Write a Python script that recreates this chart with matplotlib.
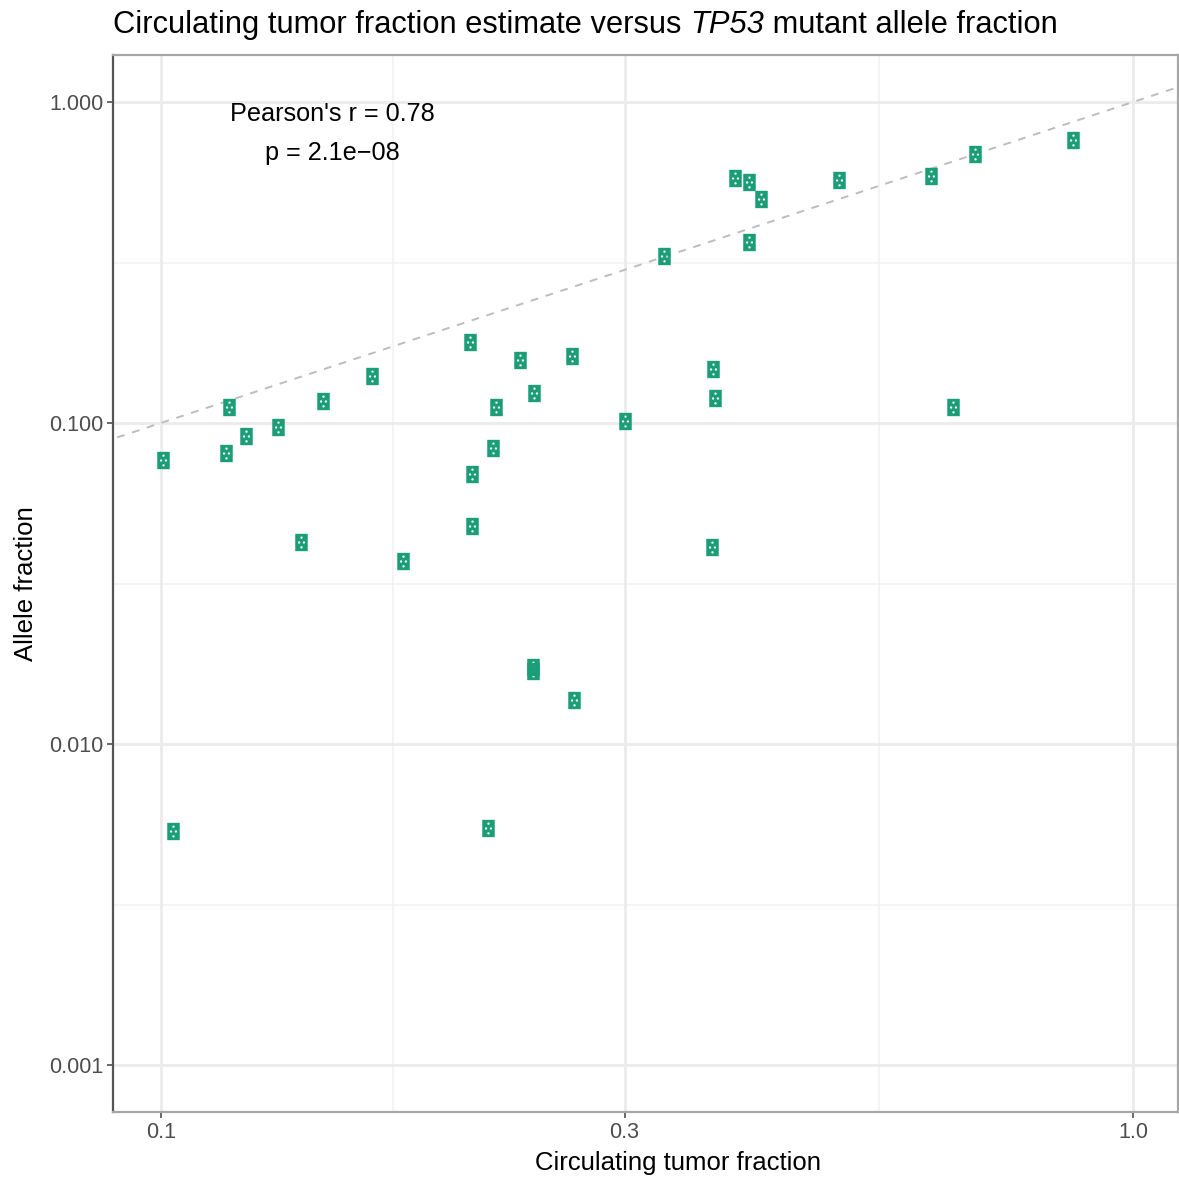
import numpy as np
import matplotlib
matplotlib.use("Agg")
import matplotlib.pyplot as plt
from matplotlib.path import Path

plt.rcParams['font.family'] = ['Liberation Sans', 'DejaVu Sans']

# values
tumor_fraction = [0.1005, 0.1029, 0.1175, 0.1166, 0.1223, 0.1319, 0.1393, 0.1468,
                  0.1649, 0.1774, 0.2079, 0.2089, 0.2089, 0.2170, 0.2196, 0.2212,
                  0.2340, 0.2418, 0.2413, 0.2413, 0.2647, 0.2660, 0.3000, 0.3293,
                  0.3688, 0.3698, 0.3715, 0.3895, 0.4026, 0.4026, 0.4142, 0.4983,
                  0.6196, 0.6529, 0.6877, 0.8675]
allele_fraction = [0.0767, 0.00536, 0.1122, 0.0806, 0.0911, 0.0972, 0.0426, 0.1171,
                   0.1401, 0.0372, 0.1788, 0.0694, 0.0478, 0.00548, 0.0836, 0.1122,
                   0.1572, 0.1241, 0.01738, 0.01688, 0.1617, 0.01371, 0.1014, 0.3313,
                   0.0411, 0.1473, 0.1196, 0.5798, 0.5633, 0.3664, 0.4986, 0.5715,
                   0.5882, 0.1122, 0.6887, 0.7615]

x_ticks = [0.1, 0.3, 1.0]
x_tick_labels = ['0.1', '0.3', '1.0']
y_ticks = [0.001, 0.01, 0.1, 1.0]
y_tick_labels = ['0.001', '0.010', '0.100', '1.000']
x_minor = [np.sqrt(0.1 * 0.3), np.sqrt(0.3 * 1.0)]
y_minor = [10 ** -2.5, 10 ** -1.5, 10 ** -0.5]

title_parts = [('Circulating tumor fraction estimate versus ', 'normal'),
               ('TP53', 'italic'),
               (' mutant allele fraction', 'normal')]


def box_marker():
    # green "tofu" box with small white holes
    w, h = 0.36, 0.5
    verts = [(-w, -h), (w, -h), (w, h), (-w, h), (-w, -h)]
    codes = [Path.MOVETO, Path.LINETO, Path.LINETO, Path.LINETO, Path.CLOSEPOLY]
    r = 0.07
    ang = np.linspace(0, -2 * np.pi, 9)[:-1]
    for cx, cy in [(0, 0.28), (-0.14, 0.0), (0.14, 0.0), (0, -0.28)]:
        pts = [(cx + r * np.cos(a), cy + r * np.sin(a)) for a in ang]
        verts += pts + [pts[0]]
        codes += [Path.MOVETO] + [Path.LINETO] * (len(pts) - 1) + [Path.CLOSEPOLY]
    return Path(verts, codes)


fig = plt.figure(figsize=(11.79, 11.78), dpi=100)
ax = fig.add_axes([0.0958, 0.056, 0.9032, 0.8973])
ax.set_xscale('log')
ax.set_yscale('log')
ax.set_xlim(0.0893, 1.112)
ax.set_ylim(0.000714, 1.401)

for v in x_minor:
    ax.axvline(v, color='#F2F2F2', lw=1.2, zorder=0)
for v in y_minor:
    ax.axhline(v, color='#F2F2F2', lw=1.2, zorder=0)
for v in x_ticks:
    ax.axvline(v, color='#EBEBEB', lw=2.0, zorder=0)
for v in y_ticks:
    ax.axhline(v, color='#EBEBEB', lw=2.0, zorder=0)

line = np.array([0.05, 2.0])
ax.plot(line, line, color='#BDBDBD', lw=1.4, linestyle=(0, (4, 4)), zorder=1)

ax.scatter(tumor_fraction, allele_fraction, marker=box_marker(), s=12.5 ** 2,
           color='#1B9E77', linewidths=0, zorder=3)

ax.set_xticks(x_ticks)
ax.set_xticklabels(x_tick_labels)
ax.set_yticks(y_ticks)
ax.set_yticklabels(y_tick_labels)
ax.minorticks_off()
ax.tick_params(axis='both', length=4, width=1.2, color='#4D4D4D',
               labelcolor='#4D4D4D', labelsize=15.5, pad=3)

ax.set_xlabel('Circulating tumor fraction', fontsize=18.5)
ax.xaxis.label.set_va('center')
ax.xaxis.set_label_coords((678 - 113) / 1065, -(1163 - 1112) / 1057)
ax.set_ylabel('Allele fraction', fontsize=18.5, labelpad=8)

for side in ['top', 'right', 'bottom']:
    ax.spines[side].set_color('#A6A6A6')
    ax.spines[side].set_linewidth(1.6)
ax.spines['left'].set_color('#555555')
ax.spines['left'].set_linewidth(1.6)

ax.text(0.2056, 0.956, "Pearson's r = 0.78\np = 2.1e\u221208", transform=ax.transAxes,
        ha='center', va='top', fontsize=18.2, linespacing=1.83)

# title with italic gene name, pieces placed one after another
renderer = fig.canvas.get_renderer()
x_px = 113
y_frac = 1 - 25 / 1178
for txt, style in title_parts:
    t = fig.text(x_px / 1179, y_frac, txt, fontsize=22.2, style=style,
                 ha='left', va='center')
    bb = t.get_window_extent(renderer=renderer)
    x_px = bb.x1

fig.savefig('out.png', dpi=100)
